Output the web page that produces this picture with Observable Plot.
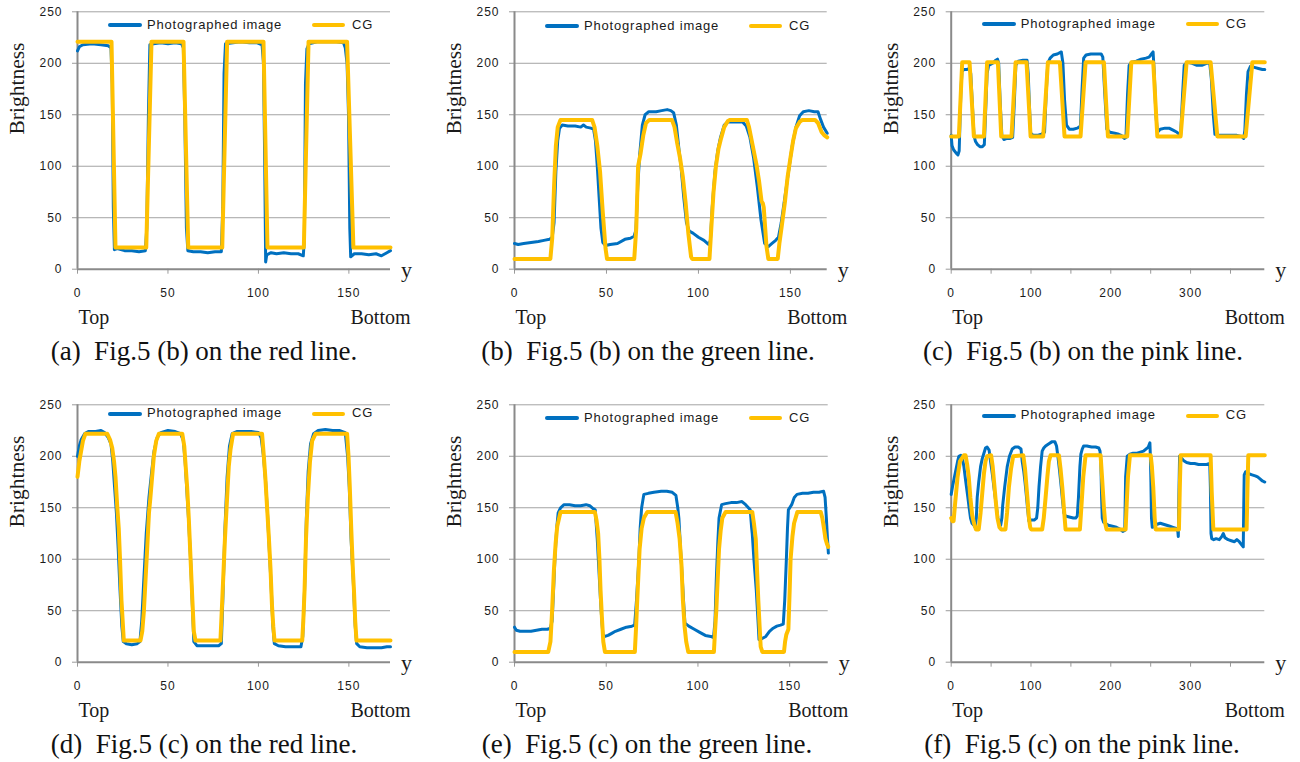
<!DOCTYPE html>
<html><head><meta charset="utf-8">
<script src="https://cdn.jsdelivr.net/npm/d3@7"></script>
<script src="https://cdn.jsdelivr.net/npm/@observablehq/plot@0.6"></script>
<style>
html,body{margin:0;padding:0;background:#fff;}
#root{position:relative;width:1300px;height:762px;overflow:hidden;background:#fff;}
.panel{position:absolute;}
.panel svg{display:block;overflow:visible;}
.panel svg text{fill:#1a1a1a;letter-spacing:1px;}
.panel svg g[font-family] text{letter-spacing:0;}
.leg{position:absolute;font-family:"Liberation Sans",sans-serif;font-size:13px;letter-spacing:0.8px;color:#1a1a1a;white-space:nowrap;line-height:14px;}
.sw{position:absolute;height:4px;border-radius:2px;}
.cap{position:absolute;width:440px;text-align:center;font-family:"Liberation Serif",serif;font-size:27px;white-space:pre;color:#111;line-height:27px;}
</style></head>
<body><div id="root"></div>
<script>
// ---------- data ----------
const seriesNames = ["Photographed image", "CG"];
const captions = [
  "(a)  Fig.5 (b) on the red line.",
  "(b)  Fig.5 (b) on the green line.",
  "(c)  Fig.5 (b) on the pink line.",
  "(d)  Fig.5 (c) on the red line.",
  "(e)  Fig.5 (c) on the green line.",
  "(f)  Fig.5 (c) on the pink line."
];
const yTicks = [0, 50, 100, 150, 200, 250];
const xTicksShort = [0, 50, 100, 150];
const xTicksLong = [0, 50, 100, 150, 200, 250, 300, 350];

const aCG = [[0,221],[18.8,221],[21,21],[38,21],[40.9,221],[58.6,221],[61.2,21],[80,21],[82.7,221],[102.8,221],[105,21],[125.1,21],[127.7,221],[149,221],[152.5,21],[173,21]];
const aPhoto = [[0,212],[1,216],[3,218],[8,219],[13,218],[17,217],[18.5,215],[19.2,180],[19.8,60],[20.4,19],[22,20],[26,18],[30,18],[34,17],[37.5,18],[38.3,40],[39.2,150],[40,218],[42,219],[46,220],[50,219],[54,220],[57.5,219],[58.5,215],[59.3,150],[60.2,40],[61,18],[64,17],[68,17],[72,16],[76,17],[79.5,17],[80.3,60],[81,190],[81.8,219],[86,220],[90,221],[95,220],[99,220],[102,218],[102.8,200],[103.5,100],[104,7],[104.6,14],[107,16],[110,15],[114,16],[118,15],[122,15],[124.8,13],[125.4,30],[126,180],[126.8,214],[128,219],[133,221],[138,221],[143,221],[147,220],[148,215],[149,200],[149.8,150],[150.5,40],[151,12],[153,15],[157,15],[161,14],[165,15],[168,13],[171,16],[173,18]];

const bCG = [[0,10],[19.5,10],[20.5,30],[21.5,80],[22.5,120],[23.5,138],[25,145],[42.2,145],[43.5,138],[45,120],[46.5,95],[48,55],[49.5,20],[50.3,10],[65.1,10],[66.2,40],[67.2,100],[68.5,112],[70,130],[71.5,142],[73.3,145],[85.6,145],[87,138],[88.5,122],[90,108],[91.5,90],[93,65],[94.5,35],[96,12],[96.6,10],[106,10],[107,40],[108.2,75],[109.5,100],[110.9,117],[112,125],[114,138],[116,144],[117.2,145],[126.3,145],[127.5,138],[129.5,120],[131.5,102],[133,85],[134.3,66],[135,64],[135.5,60],[137,22],[138,10],[143.1,10],[144,25],[145.3,42],[147,65],[148.5,90],[150,108],[151.5,125],[153,137],[155,143],[156.5,145],[163.4,145],[165,142],[167,133],[168.5,130],[170,128]];
const bPhoto = [[0,25],[2,24],[5,25],[9,26],[13,27],[16,28],[19,29],[20.5,31],[21.5,45],[22.5,95],[23.5,125],[24.5,137],[26,140],[29,139],[33,139],[36,138],[37.5,140],[39,138],[41.5,137],[43,136],[44,125],[45,100],[46,70],[47,40],[48,26],[49.5,23],[52,24],[56,25],[60,29],[63,30],[65,32],[66,38],[67,80],[68,110],[69.5,140],[71,150],[73,153],[77,153],[80,154],[83,155],[85,154],[86.5,152],[88,140],[89.5,115],[90.5,100],[92,70],[93.5,45],[95,37],[97,35],[100,31],[103,28],[105.5,24],[106.5,28],[107.5,60],[109,95],[110.5,115],[112,128],[114,140],[116,143],[120,143],[124,143],[126,139],[128,128],[130,108],[132,80],[134,48],[136,25],[138,22],[140,25],[142,28],[143.5,31],[145,45],[147,70],[149,95],[151,120],[153,138],[155,149],[157,153],[160,154],[163,153],[165,153],[166.5,145],[168,138],[170,132]];

const cCG = [[0,129],[9.6,129],[13.8,201],[23,201],[28.4,129],[41,129],[45,201],[58.5,201],[62.7,129],[75.6,129],[80.7,201],[94.4,201],[99.5,129],[115.3,129],[121.2,201],[136.2,201],[142,129],[162.1,129],[168.4,201],[191.4,201],[196.4,129],[220.6,129],[225.7,201],[253.2,201],[258.3,129],[287.5,129],[295,201],[325.1,201],[333.5,129],[369,129],[377.4,201],[393,201]];
const cPhoto = [[0,130],[1,120],[3,116],[6,113],[8.5,111],[10,115],[12,170],[13.5,192],[16,194],[20,194],[23,195],[24.5,190],[26.5,160],[28.5,130],[30.5,124],[33,121],[36,119],[39,119],[41.5,121],[43,150],[45,190],[47,198],[52,200],[56,203],[58,204],[59.5,200],[61.5,160],[63.5,130],[66,126],[70,127],[74,127],[77,128],[79,160],[81,198],[84,202],[90,203],[95,203],[96.5,190],[98,160],[99.5,132],[103,130],[108,130],[113,131],[117,133],[119,170],[121,200],[124,205],[128,208],[133,209],[138,211],[140,200],[142,165],[144.5,140],[148,136],[153,136],[158,137],[162,139],[164,175],[166,205],[169,208],[175,209],[182,209],[188,209],[190,206],[192.5,170],[195,136],[199,133],[205,132],[210,131],[213,130],[217,127],[219,128],[221,170],[223,198],[226,201],[232,202],[238,204],[244,205],[248,206],[251,209],[253,211],[254.5,190],[256.5,150],[258.5,133],[262,136],[268,137],[273,137],[278,135],[283,133],[286,131],[287.5,130],[290,170],[292,198],[296,201],[302,200],[308,198],[314,198],[320,200],[324,200],[326,185],[328.5,150],[330.5,131],[336,130],[342,130],[350,130],[358,130],[364,129],[366.5,127],[368,135],[370,170],[372,192],[375,197],[380,196],[385,195],[390,194],[393,194]];

const dCG = [[0,180],[1,195],[2,205],[3,215],[4.4,222],[16.4,222],[18,216],[19.2,208],[20.2,195],[21,180],[22,150],[22.8,130],[23.5,100],[24.3,60],[25.6,21],[34.8,21],[35.8,30],[36.7,50],[38.5,110],[39.5,145],[40.3,160],[41,175],[42.2,200],[43.5,215],[45,222],[57.9,222],[59,210],[60.6,170],[61.5,140],[62.5,100],[63.5,60],[64.3,30],[65.2,21],[79,21],[80,60],[81.5,120],[82.7,160],[83.6,190],[84.6,207],[86,222],[102,222],[103,200],[103.8,180],[104.8,150],[105.8,120],[106.7,90],[107.5,55],[108.2,35],[108.9,21],[124.2,21],[124.8,40],[125.5,70],[126.3,120],[127.3,160],[128.5,195],[129.7,215],[131.6,222],[149,222],[149.8,200],[150.5,170],[151.3,130],[152.2,90],[152.8,70],[153.5,40],[154.2,21],[173,21]];
const dPhoto = [[0,200],[1,210],[2,216],[4,222],[6,224],[10,224],[13,225],[15,223],[17,218],[18.5,212],[19.5,195],[20.5,170],[21.5,145],[22.5,110],[23.5,70],[24.5,35],[25.3,20],[27,18],[30,17],[33,18],[34.5,20],[35.5,40],[36.5,75],[38,125],[39.5,160],[41,185],[42.3,205],[44,218],[46,223],[50,225],[54,224],[57,222],[58.5,215],[59.5,195],[60.5,165],[61.5,135],[62.5,100],[63.5,55],[64.3,20],[66,16],[70,16],[74,16],[78,16],[79.5,18],[80.3,60],[81.5,130],[82.7,180],[84,210],[85.5,222],[88,224],[92,224],[96,224],[100,223],[101.5,218],[102.8,200],[104,175],[105,145],[106,110],[107,75],[108,35],[108.8,18],[111,16],[115,15],[120,15],[123.5,15],[124.5,25],[125.5,70],[126.5,140],[127.5,185],[128.8,212],[130.5,222],[133,225],[137,226],[141,225],[145,225],[148,223],[149.3,200],[150.2,170],[151.2,120],[152.4,80],[153.5,35],[154.3,18],[156,15],[160,14],[164,14],[168,14],[171,15],[173,15]];

const eCG = [[0,10],[18.4,10],[19.6,20],[20.5,50],[21.5,90],[22.4,115],[23.3,132],[25.1,146],[43.8,146],[44.7,138],[45.6,125],[46.3,100],[46.9,70],[47.6,45],[48.4,20],[49.3,10],[65.6,10],[66.3,35],[66.9,60],[68.2,110],[69.3,130],[70.5,140],[72.4,146],[87.8,146],[88.9,135],[90,120],[91,95],[91.8,60],[92.7,35],[93.6,20],[94.7,10],[108.7,10],[109.3,30],[110,50],[111.5,110],[112.4,128],[113.3,140],[115.1,146],[129.6,146],[130.5,135],[131.5,120],[132.2,90],[132.9,60],[133.6,35],[134.2,15],[135.1,10],[146.9,10],[147.5,20],[148.2,27],[149.3,32],[150,70],[150.5,100],[151.5,122],[152.4,135],[154.2,146],[166.9,146],[167.8,140],[168.7,130],[169.5,120],[170.3,115],[171,112]];
const ePhoto = [[0,34],[1,31],[3,30],[6,30],[9,30],[12,31],[15,32],[18,32],[19.5,33],[20.5,40],[21.3,70],[22,100],[23,130],[23.8,145],[25.1,150],[27,153],[30,153],[33,152],[36,152],[39,153],[41,152],[43,149],[44,148],[45.1,120],[46,90],[46.9,60],[47.6,40],[48.2,27],[49,25],[51,26],[53,28],[55,30],[58,32],[61,34],[64,35],[65.5,36],[66.5,60],[67.8,100],[68.5,130],[69.3,150],[70.5,163],[73,164],[76,165],[80,166],[83,166],[86,165],[88,162],[89,150],[89.6,140],[90.5,110],[91.5,80],[92.3,55],[92.9,38],[95,35],[98,32],[101,29],[104,26],[107,25],[108.5,24],[109.3,40],[110,80],[110.8,115],[111.5,140],[112.9,153],[115,154],[118,155],[121,155],[124,156],[126,153],[127.5,150],[128.5,148],[129.3,130],[129.6,125],[130.5,100],[131.8,70],[132.6,45],[133.3,22],[135,23],[137,25],[139,30],[141,33],[143,35],[145,36],[146.5,37],[147.3,60],[148.2,100],[148.8,130],[149.3,148],[151.1,153],[152.5,160],[154,163],[157,164],[160,164],[163,165],[166,165],[168.5,166],[169.3,160],[170,140],[170.6,120],[171.1,106]];

const fCG = [[0,140],[1.5,137],[3,137],[5,155],[8,180],[11,195],[15.9,201],[18,201],[20,192],[22,180],[24,160],[26.3,143],[28.5,135],[31,129],[34.5,129],[36.8,145],[39,165],[41,183],[43,195],[45,200],[50,201],[52,190],[54.3,170],[56,155],[58,140],[60.5,131],[62.5,129],[68,129],[70,145],[72.3,170],[75,188],[77.7,200],[90.3,201],[92.5,188],[94.4,170],[96,155],[97.4,140],[99,131],[100.3,129],[114,129],[116,140],[118.3,160],[120.5,180],[122.4,195],[124.5,201],[135,201],[137,188],[139.2,170],[141.2,150],[143.3,129],[161.3,129],[163.5,155],[165.5,180],[168.4,201],[187.2,201],[189,180],[191.4,150],[193,135],[194.7,129],[218.6,129],[220,155],[221.5,180],[224,201],[250,201],[251.5,190],[253.2,170],[255,140],[256.2,129],[285.4,129],[286.5,170],[287.5,201],[325.1,201],[326.5,165],[328.5,129],[370.2,129],[371.2,165],[372.3,201],[393,201]];
const fPhoto = [[0,163],[2,172],[5.4,185],[8,195],[9.6,200],[12,201],[14,198],[15.9,190],[18,177],[20.9,160],[22.5,150],[24.2,140],[26,135],[28.4,133],[30,131],[31.5,140],[32.6,160],[34.5,175],[36.8,190],[39,198],[41,203],[43,208],[45,209],[47.5,206],[49.3,195],[51.5,183],[53.5,170],[55.2,160],[56.8,150],[58.5,140],[59.8,135],[62,133],[63.5,140],[64.5,152],[67,170],[70.2,190],[73,200],[76.5,207],[80,209],[84,209],[87.5,207],[89,195],[91,185],[92.5,175],[94.4,160],[96,147],[97.4,137],[100,138],[104,138],[107,140],[108.5,150],[110,170],[112,190],[114,205],[116,208],[118.3,210],[122,212],[126,214],[130,214],[132,210],[133.7,200],[135.5,188],[137.9,170],[139.5,157],[141.2,145],[143,142],[148,141],[153,140],[156,140],[158,142],[159.5,160],[161.3,190],[162.5,202],[164.2,207],[166,210],[170,210],[176,209],[181,209],[185,208],[186.5,205],[187.5,195],[188.5,160],[189.3,140],[191,136],[193,135],[197,133],[202,132],[207,131],[212,129],[215,127],[217.5,128],[218.6,180],[220.6,200],[224,202],[228,203],[233,203],[237,204],[241,205],[244,207],[247,209],[249,213],[249.6,200],[250.3,175],[251,140],[252,131],[255,132],[258,134],[262,135],[266,134],[270,133],[274,132],[278,131],[282,130],[284,127],[284.6,122],[285.3,160],[286.2,200],[288,199],[291,196],[295,194],[300,193],[305,193],[310,192],[315,192],[320,192],[324,193],[324.8,170],[325.6,125],[326.5,120],[329,119],[332,120],[336,119],[339,122],[341,125],[343,121],[347,119],[351,118],[355,117],[358,119],[361,117],[363,115],[365,113],[366,112],[366.6,150],[367.2,182],[369,185],[373,183],[377,182],[381,181],[384,180],[387,178],[390,176],[393,175]];

const photoSeries = [aPhoto, bPhoto, cPhoto, dPhoto, ePhoto, fPhoto];
const cgSeries = [aCG, bCG, cCG, dCG, eCG, fCG];
const xMaxes = [173, 170, 393, 173, 171, 393];

// ---------- layout ----------
const COLORS = {photo: "#0070C0", cg: "#FFC000"};
const layout = [
  {left: 0,   top: 0,     width: 435, ml: 77,   mr: 45,   long: false, legY: 13.7, capX: 204,  capY: 352},
  {left: 435, top: 0,     width: 435, ml: 79,   mr: 43.3, long: false, legY: 14.7, capX: 648,  capY: 352},
  {left: 870, top: 0,     width: 430, ml: 80.7, mr: 35.7, long: true,  legY: 12.7, capX: 1083, capY: 352},
  {left: 0,   top: 393.4, width: 435, ml: 77,   mr: 45,   long: false, legY: 9.3,  capX: 204,  capY: 745},
  {left: 435, top: 393.4, width: 435, ml: 79,   mr: 42.3, long: false, legY: 13.6, capX: 647,  capY: 745},
  {left: 870, top: 393.4, width: 430, ml: 80.7, mr: 35.7, long: true,  legY: 11.3, capX: 1082, capY: 745}
];
const MT = 11.3, H = 330, MB = 61.3;
const root = document.getElementById("root");
const serif = "Liberation Serif, Times New Roman, serif";

layout.forEach((L, i) => {
  const div = document.createElement("div");
  div.className = "panel";
  div.style.left = L.left + "px";
  div.style.top = L.top + "px";
  const xt = L.long ? xTicksLong : xTicksShort;
  const labelStep = L.long ? 100 : 50;
  const svg = Plot.plot({
    width: L.width, height: H,
    marginLeft: L.ml, marginRight: L.mr, marginTop: MT, marginBottom: MB,
    style: {fontFamily: "Liberation Sans, Arial, sans-serif", fontSize: "12px", color: "#9a9a9a", background: "transparent", overflow: "visible"},
    x: {domain: [0, xMaxes[i]], ticks: xt, tickSize: 5, tickPadding: 14, label: null,
        tickFormat: d => (d % labelStep === 0 ? String(d) : "")},
    y: {domain: [0, 250], ticks: yTicks, tickSize: 5, tickPadding: 10, label: null},
    marks: [
      Plot.ruleY(yTicks.filter(d => d > 0), {stroke: "#a3a3a3", strokeWidth: 1}),
      Plot.ruleX([0], {stroke: "#8a8a8a", strokeWidth: 2}),
      Plot.ruleY([0], {stroke: "#8a8a8a", strokeWidth: 2}),
      Plot.line(photoSeries[i], {x: d => d[0], y: d => d[1], stroke: COLORS.photo, strokeWidth: 3}),
      Plot.line(cgSeries[i], {x: d => d[0], y: d => d[1], stroke: COLORS.cg, strokeWidth: 4}),
      Plot.text(["Brightness"], {text: d => d, frameAnchor: "left", rotate: -90, dx: -60, dy: -6, fontFamily: serif, fontSize: 21.5}),
      Plot.text(["Top"], {text: d => d, frameAnchor: "bottom-left", textAnchor: "start", lineAnchor: "middle", dx: 1, dy: 48, fontFamily: serif, fontSize: 20}),
      Plot.text(["Bottom"], {text: d => d, frameAnchor: "bottom-right", textAnchor: "end", lineAnchor: "middle", dx: 20, dy: 48, fontFamily: serif, fontSize: 20}),
      Plot.text(["y"], {text: d => d, frameAnchor: "bottom-right", textAnchor: "middle", lineAnchor: "middle", dx: 16, dy: 1, fontFamily: serif, fontSize: 22})
    ]
  });
  div.appendChild(svg);

  // legend
  const ly = MT + L.legY;
  const items = [
    {name: seriesNames[0], color: COLORS.photo, sx: 31, sw: 34, tx: 70},
    {name: seriesNames[1], color: COLORS.cg, sx: 235, sw: 33, tx: 275}
  ];
  items.forEach(it => {
    const s = document.createElement("div");
    s.className = "sw";
    s.style.background = it.color;
    s.style.left = (L.ml + it.sx) + "px";
    s.style.width = it.sw + "px";
    s.style.top = (ly - 2) + "px";
    div.appendChild(s);
    const t = document.createElement("div");
    t.className = "leg";
    t.textContent = it.name;
    t.style.left = (L.ml + it.tx) + "px";
    t.style.top = (ly - 7.5) + "px";
    div.appendChild(t);
  });
  root.appendChild(div);

  const cap = document.createElement("div");
  cap.className = "cap";
  cap.textContent = captions[i];
  cap.style.left = (L.capX - 220) + "px";
  cap.style.top = (L.capY - 14) + "px";
  root.appendChild(cap);
});
</script>
</body></html>
